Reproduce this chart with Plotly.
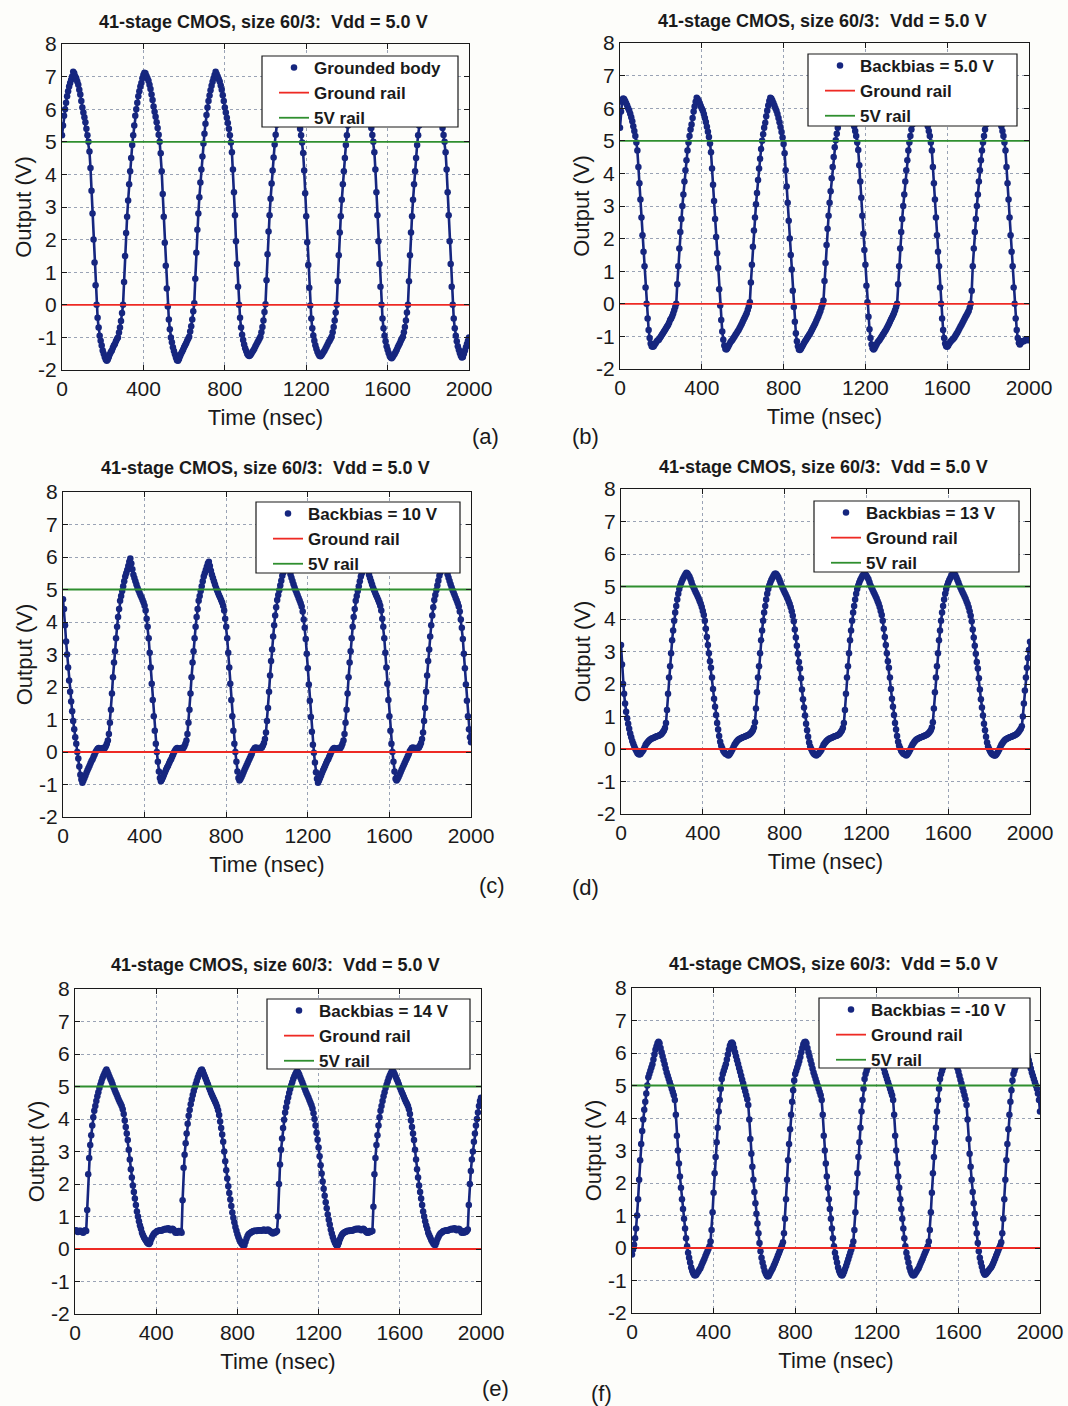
import numpy as np
import plotly.graph_objects as go

# ---------------------------------------------------------------- data
title_text = "41-stage CMOS, size 60/3:  Vdd = 5.0 V"
series_names = ["Grounded body", "Backbias = 5.0 V", "Backbias = 10 V",
                "Backbias = 13 V", "Backbias = 14 V", "Backbias = -10 V"]
panel_tags = ["(a)", "(b)", "(c)", "(d)", "(e)", "(f)"]
rail_names = ["Ground rail", "5V rail"]
rail_levels = [0.0, 5.0]
x_ticks = [0, 400, 800, 1200, 1600, 2000]
y_ticks = [-2, -1, 0, 1, 2, 3, 4, 5, 6, 7, 8]
sample_step_ns = 5  # output sampled every 5 ns from t = 0

# (a) grounded body
vout_a = [
    5.2, 5.5, 5.8, 6.0, 6.2, 6.4, 6.55, 6.7, 6.8, 6.9, 7.0,
    # cycle 1
    7.15, 7.1, 7.0, 6.95, 6.85, 6.75, 6.6, 6.45, 6.25, 6.05,
    5.9, 5.75, 5.6, 5.4, 5.2, 5.0, 4.7, 4.2, 3.5, 2.8,
    2.0, 1.3, 0.6, 0.0, -0.4, -0.7, -0.95, -1.1, -1.25, -1.4,
    -1.5, -1.6, -1.68, -1.72, -1.68, -1.6, -1.52, -1.45, -1.4, -1.32,
    -1.25, -1.2, -1.12, -1.05, -1.0, -0.85, -0.7, -0.5, -0.25, 0.0,
    0.7, 1.5, 2.2, 2.7, 3.2, 3.7, 4.1, 4.5, 4.9, 5.2,
    5.5, 5.8, 6.0, 6.2, 6.4, 6.55, 6.7, 6.8, 6.95, 7.05,
    # cycle 2
    7.12, 7.1, 7.02, 6.95, 6.87, 6.75, 6.62, 6.45, 6.28, 6.08,
    5.92, 5.77, 5.6, 5.42, 5.22, 5.0, 4.65, 4.1, 3.4, 2.7,
    1.9, 1.2, 0.5, -0.05, -0.45, -0.75, -1.0, -1.15, -1.3, -1.42,
    -1.52, -1.62, -1.7, -1.72, -1.66, -1.58, -1.5, -1.44, -1.38, -1.3,
    -1.24, -1.18, -1.1, -1.04, -0.98, -0.82, -0.66, -0.45, -0.2, 0.05,
    0.8, 1.6, 2.3, 2.8, 3.3, 3.75, 4.15, 4.55, 4.95, 5.25,
    5.55, 5.82, 6.05, 6.25, 6.42, 6.58, 6.72, 6.84, 6.95, 7.05,
    # cycle 3
    7.15, 7.08, 7.0, 6.93, 6.85, 6.73, 6.6, 6.43, 6.25, 6.05,
    5.9, 5.74, 5.58, 5.4, 5.2, 4.98, 4.68, 4.15, 3.45, 2.75,
    1.95, 1.25, 0.55, 0.0, -0.4, -0.7, -0.92, -1.08, -1.22, -1.33,
    -1.42, -1.5, -1.55, -1.57, -1.55, -1.5, -1.45, -1.4, -1.35, -1.28,
    -1.22, -1.16, -1.1, -1.04, -0.98, -0.84, -0.68, -0.48, -0.22, 0.02,
    0.75, 1.55, 2.25, 2.75, 3.25, 3.72, 4.12, 4.52, 4.92, 5.22,
    5.52, 5.8, 6.02, 6.22, 6.4, 6.56, 6.7, 6.82, 6.93, 7.03,
    # cycle 4
    7.12, 7.08, 7.0, 6.93, 6.84, 6.73, 6.6, 6.44, 6.25, 6.06,
    5.9, 5.75, 5.58, 5.4, 5.2, 4.98, 4.66, 4.12, 3.42, 2.72,
    1.92, 1.22, 0.52, -0.02, -0.42, -0.72, -0.94, -1.1, -1.24, -1.35,
    -1.44, -1.51, -1.56, -1.58, -1.55, -1.5, -1.45, -1.4, -1.34, -1.28,
    -1.22, -1.15, -1.1, -1.04, -0.98, -0.84, -0.68, -0.48, -0.24, 0.0,
    0.72, 1.52, 2.22, 2.72, 3.22, 3.7, 4.1, 4.5, 4.9, 5.2,
    5.5, 5.8, 6.0, 6.2, 6.4, 6.55, 6.7, 6.82, 6.92, 7.02,
    # cycle 5
    7.12, 7.08, 7.0, 6.94, 6.85, 6.74, 6.6, 6.45, 6.26, 6.06,
    5.9, 5.75, 5.6, 5.42, 5.21, 5.0, 4.68, 4.15, 3.45, 2.75,
    1.95, 1.25, 0.55, 0.0, -0.42, -0.72, -0.95, -1.12, -1.27, -1.38,
    -1.48, -1.56, -1.62, -1.64, -1.6, -1.55, -1.5, -1.44, -1.38, -1.3,
    -1.24, -1.18, -1.1, -1.04, -0.98, -0.84, -0.68, -0.48, -0.24, 0.0,
    0.72, 1.52, 2.22, 2.72, 3.22, 3.7, 4.1, 4.5, 4.9, 5.2,
    5.5, 5.8, 6.0, 6.2, 6.4, 6.55, 6.7, 6.82, 6.92, 7.02,
    # cycle 6
    7.12, 7.08, 7.0, 6.94, 6.85, 6.74, 6.6, 6.45, 6.26, 6.06,
    5.9, 5.75, 5.6, 5.42, 5.21, 5.0, 4.68, 4.15, 3.45, 2.75,
    1.95, 1.25, 0.55, 0.0, -0.42, -0.72, -0.95, -1.12, -1.27, -1.38,
    -1.48, -1.56, -1.62, -1.6, -1.5, -1.4, -1.3, -1.2, -1.1, -1.0,
]

# (b) backbias 5.0 V
vout_b = [
    5.4, 5.9, 6.2,
    # cycle 1
    6.3, 6.28, 6.22, 6.15, 6.08, 6.0, 5.93, 5.83, 5.72, 5.6,
    5.45, 5.3, 5.15, 4.95, 4.7, 4.2, 3.7, 3.2, 2.65, 2.1,
    1.6, 1.15, 0.5, 0.0, -0.45, -0.8, -1.05, -1.22, -1.3, -1.32,
    -1.3, -1.25, -1.2, -1.15, -1.12, -1.1, -1.05, -1.0, -0.95, -0.9,
    -0.85, -0.8, -0.75, -0.7, -0.65, -0.58, -0.5, -0.45, -0.38, -0.3,
    -0.2, -0.1, 0.0, 0.6, 1.15, 1.7, 2.2, 2.6, 3.0, 3.35,
    3.75, 4.1, 4.4, 4.7, 4.95, 5.15, 5.35, 5.5, 5.7, 5.9,
    6.05, 6.2,
    # cycle 2
    6.32, 6.28, 6.22, 6.15, 6.07, 5.99, 5.92, 5.82, 5.7, 5.58,
    5.43, 5.28, 5.12, 4.92, 4.65, 4.15, 3.65, 3.15, 2.6, 2.05,
    1.55, 1.1, 0.45, -0.05, -0.5, -0.85, -1.1, -1.28, -1.38, -1.4,
    -1.36, -1.3, -1.24, -1.18, -1.14, -1.1, -1.05, -1.0, -0.95, -0.9,
    -0.85, -0.8, -0.74, -0.68, -0.62, -0.55, -0.48, -0.42, -0.35, -0.28,
    -0.18, -0.08, 0.05, 0.65, 1.2, 1.75, 2.25, 2.65, 3.05, 3.4,
    3.8, 4.15, 4.45, 4.75, 5.0, 5.2, 5.4, 5.55, 5.75, 5.92,
    6.08, 6.22,
    # cycle 3
    6.32, 6.3, 6.24, 6.16, 6.08, 6.0, 5.92, 5.82, 5.7, 5.57,
    5.42, 5.27, 5.1, 4.9, 4.62, 4.1, 3.6, 3.1, 2.55, 2.0,
    1.5, 1.05, 0.4, -0.1, -0.55, -0.9, -1.15, -1.3, -1.4, -1.42,
    -1.38, -1.32, -1.26, -1.2, -1.15, -1.1, -1.05, -1.0, -0.95, -0.9,
    -0.84, -0.78, -0.72, -0.66, -0.6, -0.52, -0.45, -0.38, -0.3, -0.22,
    -0.12, -0.02, 0.1, 0.7, 1.25, 1.8, 2.3, 2.7, 3.1, 3.45,
    3.85, 4.2, 4.5, 4.8, 5.02, 5.22, 5.4, 5.58, 5.78, 5.95,
    6.1, 6.22,
    # cycle 4
    6.3, 6.28, 6.22, 6.15, 6.08, 6.0, 5.93, 5.83, 5.72, 5.6,
    5.45, 5.3, 5.15, 4.95, 4.72, 4.25, 3.75, 3.25, 2.7, 2.15,
    1.65, 1.2, 0.55, 0.05, -0.4, -0.78, -1.05, -1.25, -1.36, -1.4,
    -1.36, -1.3, -1.24, -1.18, -1.14, -1.1, -1.05, -1.0, -0.95, -0.9,
    -0.85, -0.8, -0.74, -0.68, -0.62, -0.55, -0.48, -0.42, -0.35, -0.28,
    -0.2, -0.1, 0.0, 0.6, 1.15, 1.7, 2.2, 2.6, 3.0, 3.35,
    3.75, 4.1, 4.4, 4.7, 4.95, 5.15, 5.35, 5.5, 5.7, 5.9,
    6.05, 6.2,
    # cycle 5
    6.3, 6.28, 6.22, 6.15, 6.08, 6.0, 5.93, 5.83, 5.72, 5.6,
    5.45, 5.3, 5.15, 4.95, 4.7, 4.2, 3.7, 3.2, 2.65, 2.1,
    1.6, 1.15, 0.5, 0.0, -0.45, -0.8, -1.05, -1.22, -1.3, -1.32,
    -1.28, -1.22, -1.17, -1.13, -1.1, -1.07, -1.03, -0.98, -0.93, -0.88,
    -0.82, -0.76, -0.7, -0.64, -0.58, -0.52, -0.46, -0.4, -0.34, -0.28,
    -0.22, -0.12, 0.0, 0.4, 1.15, 1.7, 2.2, 2.6, 3.0, 3.35,
    3.75, 4.1, 4.4, 4.7, 4.95, 5.15, 5.35, 5.5, 5.7, 5.9,
    6.05, 6.2,
    # cycle 6
    6.3, 6.28, 6.22, 6.15, 6.08, 6.0, 5.93, 5.83, 5.72, 5.6,
    5.45, 5.3, 5.15, 4.95, 4.7, 4.2, 3.7, 3.2, 2.65, 2.1,
    1.6, 1.15, 0.5, 0.0, -0.45, -0.8, -1.05, -1.2, -1.25, -1.2,
    -1.15, -1.15, -1.15, -1.12, -1.1, -1.1, -1.12, -1.1,
]

# (c) backbias 10 V
vout_c = [
    4.7, 4.4, 3.9, 3.4, 3.0, 2.6, 2.2, 1.85, 1.55, 1.25,
    0.95, 0.7, 0.45, 0.25, 0.0, -0.2, -0.45, -0.7, -0.85,
    # cycle 1
    -0.95, -0.88, -0.8, -0.72, -0.64, -0.56, -0.49, -0.42, -0.35, -0.28,
    -0.22, -0.15, -0.08, 0.0, 0.05, 0.1, 0.12, 0.1, 0.08, 0.1,
    0.12, 0.1, 0.12, 0.18, 0.25, 0.35, 0.55, 0.9, 1.3, 1.8,
    2.3, 2.75, 3.1, 3.5, 3.85, 4.15, 4.4, 4.65, 4.8, 4.95,
    5.1, 5.25, 5.4, 5.5, 5.6, 5.72, 5.85, 5.95, 5.8, 5.62,
    5.45, 5.35, 5.25, 5.15, 5.05, 4.98, 4.9, 4.82, 4.75, 4.68,
    4.6, 4.5, 4.35, 4.1, 3.85, 3.5, 3.05, 2.6, 2.1, 1.6,
    1.1, 0.65, 0.25, 0.0, -0.3, -0.6, -0.8,
    # cycle 2
    -0.9, -0.85, -0.78, -0.7, -0.62, -0.55, -0.48, -0.42, -0.35, -0.28,
    -0.22, -0.15, -0.08, 0.0, 0.05, 0.1, 0.12, 0.1, 0.08, 0.1,
    0.12, 0.1, 0.12, 0.18, 0.25, 0.35, 0.55, 0.9, 1.3, 1.8,
    2.3, 2.75, 3.1, 3.5, 3.85, 4.15, 4.4, 4.65, 4.8, 4.95,
    5.1, 5.25, 5.4, 5.5, 5.6, 5.7, 5.8, 5.85, 5.72, 5.58,
    5.45, 5.35, 5.25, 5.15, 5.05, 4.98, 4.9, 4.82, 4.75, 4.68,
    4.6, 4.5, 4.35, 4.1, 3.85, 3.5, 3.05, 2.6, 2.1, 1.6,
    1.1, 0.65, 0.25, 0.0, -0.3, -0.6, -0.8,
    # cycle 3
    -0.88, -0.83, -0.77, -0.7, -0.62, -0.55, -0.48, -0.41, -0.34, -0.27,
    -0.2, -0.13, -0.06, 0.02, 0.07, 0.12, 0.14, 0.12, 0.1, 0.11,
    0.13, 0.12, 0.14, 0.2, 0.28, 0.4, 0.6, 0.95, 1.35, 1.85,
    2.35, 2.8, 3.15, 3.55, 3.9, 4.2, 4.45, 4.68, 4.83, 4.98,
    5.12, 5.27, 5.42, 5.52, 5.62, 5.74, 5.84, 5.92, 5.78, 5.62,
    5.47, 5.36, 5.26, 5.16, 5.06, 4.98, 4.9, 4.82, 4.74, 4.66,
    4.58, 4.48, 4.32, 4.08, 3.82, 3.48, 3.02, 2.58, 2.08, 1.58,
    1.08, 0.62, 0.22, -0.02, -0.32, -0.62, -0.82,
    # cycle 4
    -0.95, -0.88, -0.8, -0.72, -0.64, -0.56, -0.49, -0.42, -0.35, -0.28,
    -0.22, -0.15, -0.08, 0.0, 0.05, 0.1, 0.12, 0.1, 0.08, 0.1,
    0.12, 0.1, 0.12, 0.18, 0.25, 0.35, 0.55, 0.9, 1.3, 1.8,
    2.3, 2.75, 3.1, 3.5, 3.85, 4.15, 4.4, 4.65, 4.8, 4.95,
    5.1, 5.25, 5.4, 5.5, 5.6, 5.72, 5.82, 5.9, 5.76, 5.6,
    5.45, 5.35, 5.25, 5.15, 5.05, 4.98, 4.9, 4.82, 4.75, 4.68,
    4.6, 4.5, 4.35, 4.1, 3.85, 3.5, 3.05, 2.6, 2.1, 1.6,
    1.1, 0.65, 0.25, 0.0, -0.3, -0.6, -0.82,
    # cycle 5
    -0.88, -0.83, -0.77, -0.7, -0.62, -0.55, -0.48, -0.41, -0.34, -0.27,
    -0.2, -0.13, -0.06, 0.02, 0.07, 0.12, 0.14, 0.12, 0.1, 0.11,
    0.13, 0.12, 0.14, 0.2, 0.28, 0.4, 0.6, 0.95, 1.35, 1.85,
    2.35, 2.8, 3.15, 3.55, 3.9, 4.2, 4.45, 4.68, 4.83, 4.98,
    5.12, 5.27, 5.42, 5.52, 5.62, 5.74, 5.84, 5.92, 5.78, 5.62,
    5.47, 5.36, 5.26, 5.16, 5.06, 4.98, 4.9, 4.82, 4.74, 4.66,
    4.58, 4.48, 4.32, 4.08, 3.82, 3.48, 3.02, 2.58, 2.08, 1.58,
    1.1, 0.7, 0.45, 0.3,
]

# (d) backbias 13 V
vout_d = [
    3.2, 2.6, 2.0, 1.7, 1.4, 1.15, 0.95, 0.78, 0.62, 0.48,
    0.36, 0.25, 0.16, 0.08, 0.0, -0.06, -0.12, -0.15,
    # cycle 1
    -0.17, -0.15, -0.11, -0.07, -0.02, 0.05, 0.12, 0.17, 0.21, 0.25,
    0.28, 0.3, 0.32, 0.33, 0.35, 0.36, 0.38, 0.39, 0.4, 0.41,
    0.43, 0.45, 0.48, 0.52, 0.57, 0.65, 0.8, 1.2, 1.7, 2.2,
    2.55, 2.95, 3.35, 3.65, 3.95, 4.2, 4.4, 4.6, 4.78, 4.92,
    5.03, 5.12, 5.2, 5.26, 5.32, 5.38, 5.42, 5.4, 5.35, 5.3,
    5.22, 5.13, 5.03, 4.97, 4.9, 4.83, 4.77, 4.7, 4.63, 4.55,
    4.47, 4.37, 4.25, 4.12, 3.95, 3.7, 3.45, 3.2, 2.95, 2.7,
    2.5, 2.2, 1.85, 1.55, 1.3, 1.05, 0.8, 0.6, 0.4, 0.22,
    0.1, 0.02, -0.05, -0.1, -0.14, -0.16, -0.17,
    # cycle 2
    -0.2, -0.17, -0.12, -0.07, -0.01, 0.06, 0.13, 0.18, 0.22, 0.26,
    0.29, 0.31, 0.33, 0.34, 0.36, 0.37, 0.38, 0.4, 0.41, 0.42,
    0.44, 0.46, 0.49, 0.53, 0.58, 0.66, 0.82, 1.25, 1.75, 2.2,
    2.55, 2.95, 3.35, 3.65, 3.95, 4.2, 4.4, 4.6, 4.78, 4.92,
    5.03, 5.12, 5.2, 5.26, 5.32, 5.38, 5.4, 5.38, 5.33, 5.28,
    5.2, 5.12, 5.03, 4.96, 4.89, 4.82, 4.76, 4.69, 4.62, 4.54,
    4.46, 4.36, 4.24, 4.1, 3.93, 3.68, 3.43, 3.18, 2.93, 2.68,
    2.48, 2.18, 1.83, 1.53, 1.28, 1.03, 0.78, 0.58, 0.38, 0.2,
    0.08, 0.0, -0.07, -0.12, -0.16, -0.18, -0.2,
    # cycle 3
    -0.17, -0.15, -0.11, -0.07, -0.02, 0.05, 0.12, 0.17, 0.21, 0.25,
    0.28, 0.3, 0.32, 0.33, 0.35, 0.36, 0.38, 0.39, 0.4, 0.41,
    0.43, 0.45, 0.48, 0.52, 0.57, 0.65, 0.8, 1.2, 1.7, 2.2,
    2.55, 2.95, 3.35, 3.65, 3.95, 4.2, 4.4, 4.6, 4.78, 4.92,
    5.03, 5.12, 5.2, 5.26, 5.32, 5.36, 5.38, 5.37, 5.33, 5.28,
    5.22, 5.13, 5.03, 4.97, 4.9, 4.83, 4.77, 4.7, 4.63, 4.55,
    4.47, 4.37, 4.25, 4.12, 3.95, 3.7, 3.45, 3.2, 2.95, 2.7,
    2.5, 2.2, 1.85, 1.55, 1.3, 1.05, 0.8, 0.6, 0.4, 0.22,
    0.1, 0.02, -0.05, -0.1, -0.14, -0.16, -0.17,
    # cycle 4
    -0.2, -0.17, -0.12, -0.07, -0.01, 0.06, 0.13, 0.18, 0.22, 0.26,
    0.29, 0.31, 0.33, 0.34, 0.36, 0.37, 0.38, 0.4, 0.41, 0.42,
    0.44, 0.46, 0.49, 0.53, 0.58, 0.66, 0.82, 1.25, 1.75, 2.2,
    2.55, 2.95, 3.35, 3.65, 3.95, 4.2, 4.4, 4.6, 4.78, 4.92,
    5.03, 5.12, 5.2, 5.26, 5.32, 5.38, 5.42, 5.4, 5.35, 5.28,
    5.2, 5.12, 5.03, 4.96, 4.89, 4.82, 4.76, 4.69, 4.62, 4.54,
    4.46, 4.36, 4.24, 4.1, 3.93, 3.68, 3.43, 3.18, 2.93, 2.68,
    2.48, 2.18, 1.83, 1.53, 1.28, 1.03, 0.78, 0.58, 0.38, 0.2,
    0.08, 0.0, -0.07, -0.12, -0.16, -0.18, -0.2,
    # cycle 5
    -0.2, -0.17, -0.12, -0.07, -0.01, 0.06, 0.13, 0.18, 0.22, 0.26,
    0.29, 0.31, 0.33, 0.34, 0.36, 0.37, 0.38, 0.4, 0.41, 0.42,
    0.44, 0.46, 0.49, 0.53, 0.58, 0.62, 0.7, 1.0, 1.4, 1.8,
    2.2, 2.5, 2.8, 3.05, 3.3,
]

# (e) backbias 14 V
vout_e = [
    0.55, 0.58, 0.55, 0.52, 0.55, 0.56, 0.55, 0.52, 0.5, 0.55, 0.58,
    # cycle 1
    0.55, 1.2, 2.3, 2.8, 3.2, 3.5, 3.8, 4.05, 4.25, 4.4,
    4.55, 4.7, 4.82, 4.95, 5.05, 5.15, 5.25, 5.33, 5.4, 5.47,
    5.52, 5.45, 5.38, 5.3, 5.22, 5.15, 5.07, 4.98, 4.9, 4.82,
    4.75, 4.68, 4.6, 4.53, 4.47, 4.4, 4.3, 4.15, 3.95, 3.75,
    3.55, 3.35, 3.05, 2.75, 2.45, 2.2, 1.95, 1.75, 1.55, 1.35,
    1.15, 1.0, 0.85, 0.72, 0.62, 0.5, 0.42, 0.35, 0.3, 0.25,
    0.2, 0.17, 0.15, 0.2, 0.3, 0.37, 0.43, 0.48, 0.5, 0.52,
    0.55, 0.55, 0.57, 0.58, 0.56, 0.58, 0.6, 0.6, 0.62, 0.6,
    0.62, 0.64, 0.6, 0.58, 0.6, 0.62, 0.6, 0.55, 0.5, 0.52,
    0.5, 0.55, 0.52, 0.55,
    # cycle 2
    0.5, 1.5, 2.5, 2.9, 3.25, 3.55, 3.85, 4.1, 4.28, 4.45,
    4.6, 4.74, 4.86, 4.98, 5.08, 5.18, 5.28, 5.36, 5.43, 5.5,
    5.52, 5.46, 5.38, 5.3, 5.22, 5.14, 5.06, 4.97, 4.89, 4.81,
    4.74, 4.67, 4.6, 4.53, 4.46, 4.38, 4.27, 4.12, 3.92, 3.72,
    3.52, 3.3, 3.0, 2.7, 2.42, 2.17, 1.93, 1.72, 1.52, 1.32,
    1.12, 0.96, 0.82, 0.68, 0.56, 0.45, 0.36, 0.28, 0.22, 0.17,
    0.13, 0.1, 0.12, 0.22, 0.32, 0.4, 0.45, 0.48, 0.5, 0.52,
    0.54, 0.55, 0.56, 0.56, 0.55, 0.57, 0.58, 0.57, 0.58, 0.56,
    0.58, 0.6, 0.58, 0.56, 0.58, 0.6, 0.58, 0.55, 0.52, 0.5,
    0.48, 0.52, 0.5, 0.52,
    # cycle 3
    0.55, 1.0, 2.0, 2.6, 3.05, 3.4, 3.72, 3.98, 4.2, 4.36,
    4.52, 4.66, 4.8, 4.92, 5.03, 5.13, 5.23, 5.31, 5.38, 5.44,
    5.46, 5.42, 5.36, 5.28, 5.2, 5.12, 5.04, 4.96, 4.88, 4.8,
    4.73, 4.66, 4.58, 4.5, 4.42, 4.32, 4.18, 4.0, 3.8, 3.58,
    3.36, 3.12, 2.85, 2.58, 2.32, 2.08, 1.85, 1.64, 1.44, 1.25,
    1.06, 0.9, 0.75, 0.6, 0.48, 0.37, 0.28, 0.2, 0.14, 0.1,
    0.12, 0.2, 0.3, 0.38, 0.44, 0.48, 0.5, 0.52, 0.53, 0.55,
    0.56, 0.55, 0.57, 0.58, 0.56, 0.58, 0.6, 0.6, 0.62, 0.6,
    0.62, 0.62, 0.6, 0.58, 0.6, 0.62, 0.6, 0.56, 0.52, 0.5,
    0.5, 0.55, 0.52, 0.55,
    # cycle 4
    0.55, 1.3, 2.3, 2.8, 3.2, 3.5, 3.8, 4.05, 4.25, 4.4,
    4.55, 4.7, 4.82, 4.95, 5.05, 5.15, 5.25, 5.33, 5.4, 5.46,
    5.48, 5.44, 5.38, 5.3, 5.22, 5.15, 5.07, 4.98, 4.9, 4.82,
    4.75, 4.68, 4.6, 4.53, 4.47, 4.4, 4.3, 4.15, 3.95, 3.75,
    3.55, 3.35, 3.05, 2.75, 2.45, 2.2, 1.95, 1.75, 1.55, 1.35,
    1.15, 1.0, 0.85, 0.72, 0.62, 0.5, 0.42, 0.35, 0.28, 0.22,
    0.17, 0.13, 0.12, 0.2, 0.3, 0.37, 0.43, 0.48, 0.5, 0.52,
    0.55, 0.55, 0.57, 0.58, 0.56, 0.58, 0.6, 0.6, 0.62, 0.6,
    0.62, 0.64, 0.6, 0.58, 0.6, 0.62, 0.6, 0.55, 0.5, 0.52,
    0.5, 0.55, 0.52, 0.55,
    # cycle 5
    0.6, 1.35, 2.0, 2.4, 2.75, 3.0, 3.3, 3.55, 3.8, 4.0,
    4.2, 4.4, 4.55, 4.65,
]

# (f) backbias -10 V
vout_f = [
    -0.2, -0.05, 0.1, 0.3, 0.6, 1.0, 1.5, 2.1, 2.7, 3.2,
    3.6, 3.95, 4.25, 4.5, 4.75, 5.0, 5.25, 5.35, 5.45, 5.55,
    5.65, 5.8, 5.95, 6.1, 6.2, 6.3,
    # cycle 1
    6.35, 6.3, 6.15, 6.02, 5.9, 5.78, 5.65, 5.52, 5.4, 5.3,
    5.2, 5.1, 5.0, 4.9, 4.8, 4.7, 4.55, 4.1, 3.45, 3.0,
    2.6, 2.2, 1.85, 1.5, 1.2, 0.9, 0.6, 0.3, 0.05, -0.15,
    -0.3, -0.45, -0.6, -0.7, -0.78, -0.83, -0.85, -0.82, -0.77, -0.72,
    -0.67, -0.62, -0.55, -0.47, -0.4, -0.33, -0.25, -0.17, -0.1, -0.02,
    0.05, 0.2, 0.55, 1.1, 1.7, 2.3, 2.8, 3.25, 3.7, 4.2,
    4.55, 4.9, 5.2, 5.35, 5.45, 5.55, 5.65, 5.8, 5.95, 6.1,
    6.22, 6.3,
    # cycle 2
    6.32, 6.28, 6.15, 6.02, 5.9, 5.78, 5.66, 5.54, 5.42, 5.3,
    5.18, 5.06, 4.94, 4.82, 4.7, 4.58, 4.4, 3.95, 3.35, 2.9,
    2.5, 2.1, 1.72, 1.38, 1.05, 0.75, 0.45, 0.15, -0.1, -0.3,
    -0.45, -0.58, -0.7, -0.78, -0.84, -0.88, -0.86, -0.8, -0.74, -0.68,
    -0.62, -0.55, -0.48, -0.4, -0.32, -0.24, -0.16, -0.08, 0.0, 0.08,
    0.18, 0.45, 0.9, 1.5, 2.1, 2.7, 3.2, 3.65, 4.1, 4.5,
    4.85, 5.15, 5.35, 5.45, 5.55, 5.65, 5.75, 5.88, 6.02, 6.15,
    6.27, 6.33,
    # cycle 3
    6.35, 6.3, 6.15, 6.02, 5.9, 5.78, 5.65, 5.52, 5.4, 5.3,
    5.2, 5.1, 5.0, 4.9, 4.8, 4.7, 4.55, 4.1, 3.45, 3.0,
    2.6, 2.2, 1.85, 1.5, 1.2, 0.9, 0.6, 0.3, 0.05, -0.15,
    -0.3, -0.45, -0.6, -0.7, -0.78, -0.83, -0.85, -0.8, -0.72, -0.64,
    -0.55, -0.45, -0.35, -0.25, -0.15, -0.05, 0.05, 0.2, 0.55, 1.1,
    1.7, 2.3, 2.8, 3.25, 3.7, 4.2, 4.55, 4.9, 5.2, 5.35,
    5.45, 5.55, 5.65, 5.75, 5.85, 5.95, 6.05, 6.15, 6.22, 6.3,
    # cycle 4
    6.35, 6.3, 6.15, 6.02, 5.9, 5.78, 5.65, 5.52, 5.4, 5.3,
    5.2, 5.1, 5.0, 4.9, 4.8, 4.7, 4.55, 4.1, 3.45, 3.0,
    2.6, 2.2, 1.85, 1.5, 1.2, 0.9, 0.6, 0.3, 0.05, -0.15,
    -0.3, -0.45, -0.6, -0.7, -0.78, -0.83, -0.85, -0.82, -0.77, -0.72,
    -0.67, -0.62, -0.55, -0.47, -0.4, -0.33, -0.25, -0.17, -0.1, -0.02,
    0.05, 0.2, 0.55, 1.1, 1.7, 2.3, 2.8, 3.25, 3.7, 4.2,
    4.55, 4.9, 5.2, 5.35, 5.45, 5.55, 5.65, 5.8, 5.95, 6.1,
    6.22, 6.3,
    # cycle 5
    6.32, 6.28, 6.15, 6.02, 5.9, 5.78, 5.66, 5.54, 5.42, 5.3,
    5.18, 5.06, 4.94, 4.82, 4.7, 4.58, 4.4, 3.95, 3.35, 2.9,
    2.5, 2.1, 1.72, 1.38, 1.05, 0.75, 0.45, 0.15, -0.1, -0.3,
    -0.45, -0.58, -0.7, -0.78, -0.82, -0.8, -0.76, -0.72, -0.68, -0.64,
    -0.6, -0.55, -0.48, -0.4, -0.32, -0.24, -0.16, -0.08, 0.0, 0.08,
    0.18, 0.45, 0.9, 1.5, 2.1, 2.7, 3.2, 3.65, 4.1, 4.5,
    4.85, 5.15, 5.35, 5.45, 5.55, 5.65, 5.75, 5.88, 6.02, 6.15,
    6.27, 6.33,
    # cycle 6
    6.35, 6.3, 6.15, 6.02, 5.9, 5.78, 5.65, 5.52, 5.4, 5.3,
    5.2, 5.1, 5.0, 4.9, 4.75, 4.55, 4.2,
]

panels = [vout_a, vout_b, vout_c, vout_d, vout_e, vout_f]

# ---------------------------------------------------------------- layout
W, H = 1068, 1406
FONT = "Liberation Sans, Arial, Helvetica, sans-serif"
NAVY = "#16267f"
RED = "#ee2a24"
GREEN = "#2f8f2f"
GRID = "#9aa3b5"
INK = "#1a1a1a"
PAPER = "#fdfdfa"

# plot-area boxes in pixels: left, top, right, bottom
axes_px = [(62, 44, 469, 370), (620, 43, 1029, 369),
           (63, 492, 471, 817), (621, 489, 1030, 814),
           (75, 989, 481, 1314), (632, 988, 1040, 1313)]
# legend frames in pixels: left, top, right, bottom
legend_px = [(262, 56, 458, 127), (808, 54, 1017, 126),
             (256, 502, 460, 573), (814, 501, 1019, 572),
             (267, 999, 470, 1069), (819, 998, 1030, 1068)]
title_px = [(263, 22), (822, 21), (265, 468), (823, 467), (275, 965), (833, 964)]
tag_px = [(485, 437), (585, 437), (492, 885), (585, 887), (495, 1388), (601, 1393)]


def px(x):
    return x / W


def py(y):
    return 1 - y / H


fig = go.Figure()
layout = dict(
    width=W, height=H,
    margin=dict(l=0, r=0, t=0, b=0, pad=0, autoexpand=False),
    paper_bgcolor=PAPER, plot_bgcolor=PAPER,
    font=dict(family=FONT, color=INK),
    showlegend=True,
)
shapes, annotations = [], []
y_ticktext = [str(v) for v in y_ticks]
x_ticktext = [str(v) for v in x_ticks]

for i, v in enumerate(panels):
    suffix = "" if i == 0 else str(i + 1)
    xa, ya, lg = "x" + suffix, "y" + suffix, "legend" + suffix
    t = np.arange(len(v)) * sample_step_ns

    # dense sampled trace: thin joining stroke under the sample dots
    fig.add_trace(go.Scatter(
        x=t, y=v, mode="lines", line=dict(color=NAVY, width=2.6),
        showlegend=False, hoverinfo="skip", xaxis=xa, yaxis=ya))
    fig.add_trace(go.Scatter(
        x=t, y=v, mode="markers", name=series_names[i],
        marker=dict(color=NAVY, size=6.5, line=dict(width=0)),
        xaxis=xa, yaxis=ya, legend=lg))
    for name, level, colour in zip(rail_names, rail_levels, [RED, GREEN]):
        fig.add_trace(go.Scatter(
            x=[x_ticks[0], x_ticks[-1]], y=[level, level], mode="lines",
            name=name, line=dict(color=colour, width=1.8),
            xaxis=xa, yaxis=ya, legend=lg))

    l, tp, r, b = axes_px[i]
    common = dict(
        showline=True, linecolor=INK, linewidth=1, mirror="ticks",
        ticks="inside", ticklen=5, tickcolor=INK,
        showgrid=True, gridcolor=GRID, griddash="dot", gridwidth=1,
        zeroline=False, automargin=False,
        tickfont=dict(size=21, family=FONT, color=INK),
    )
    layout["xaxis" + suffix] = dict(
        common, domain=[px(l), px(r)], range=[0, 2000],
        tickvals=x_ticks, ticktext=x_ticktext, ticklabelstandoff=0,
        anchor=ya, title=dict(text="Time (nsec)", font=dict(size=22), standoff=10))
    layout["yaxis" + suffix] = dict(
        common, domain=[py(b), py(tp)], range=[-2, 8],
        tickvals=y_ticks, ticktext=y_ticktext, ticklabelstandoff=0,
        anchor=xa, title=dict(text="Output (V)", font=dict(size=22), standoff=0))

    ll, lt, lr, lb = legend_px[i]
    shapes.append(dict(type="rect", xref="paper", yref="paper",
                       x0=px(ll), x1=px(lr), y0=py(lb), y1=py(lt),
                       fillcolor="white", line=dict(color=INK, width=1.2),
                       layer="above"))
    layout[lg] = dict(x=px(ll + 12), y=py(lt - 6), xanchor="left", yanchor="top",
                      bgcolor="rgba(0,0,0,0)", borderwidth=0,
                      font=dict(size=17, family=FONT, color=INK, weight="bold"),
                      tracegroupgap=0)

    tx, ty = title_px[i]
    annotations.append(dict(x=px(tx), y=py(ty), xref="paper", yref="paper",
                            text="<b>" + title_text + "</b>", showarrow=False,
                            xanchor="center", yanchor="middle",
                            font=dict(size=18, family=FONT, color=INK)))
    gx, gy = tag_px[i]
    annotations.append(dict(x=px(gx), y=py(gy), xref="paper", yref="paper",
                            text=panel_tags[i], showarrow=False,
                            xanchor="center", yanchor="middle",
                            font=dict(size=22, family=FONT, color=INK)))

layout["shapes"] = shapes
layout["annotations"] = annotations
fig.update_layout(**layout)
fig.write_html(
    "out.html",
    post_script="document.body.style.margin='0';document.body.style.padding='0';",
)
